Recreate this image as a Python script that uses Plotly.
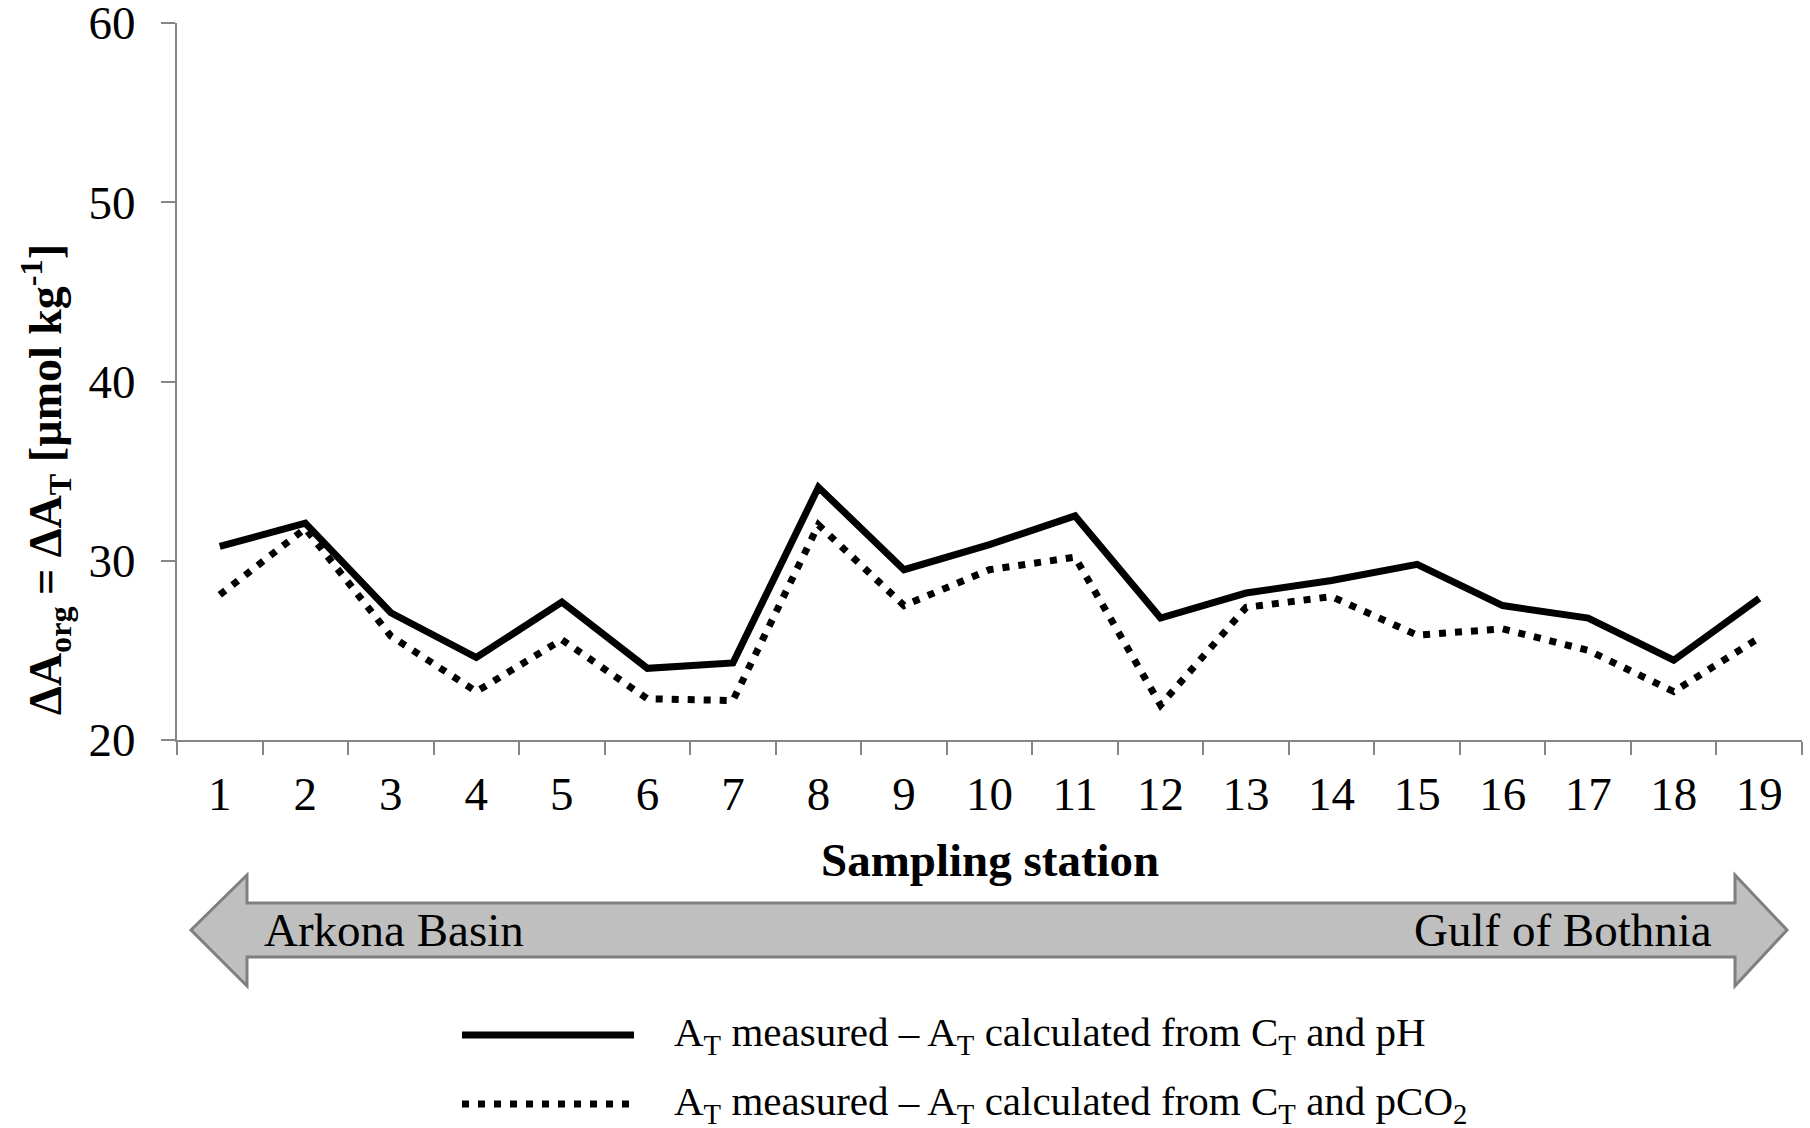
import plotly.graph_objects as go

# ---------------- data ----------------
stations = [str(i) for i in range(1, 20)]
diff_ph = [30.8, 32.1, 27.1, 24.6, 27.7, 24.0, 24.3, 34.1, 29.5, 30.9,
           32.5, 26.8, 28.2, 28.9, 29.8, 27.5, 26.8, 24.45, 27.9]
diff_pco2 = [28.1, 31.8, 25.8, 22.7, 25.6, 22.3, 22.2, 32.0, 27.5, 29.5,
             30.2, 21.95, 27.4, 28.0, 25.85, 26.2, 25.0, 22.7, 25.7]
y_ticks = [20, 30, 40, 50, 60]
legend_labels = [
    "A<sub>T</sub> measured – A<sub>T</sub> calculated from C<sub>T</sub> and pH",
    "A<sub>T</sub> measured – A<sub>T</sub> calculated from C<sub>T</sub> and pCO<sub>2</sub>",
]
region_labels = ["Arkona Basin", "Gulf of Bothnia"]
y_title = "ΔA<sub>org</sub> = ΔA<sub>T</sub> [µmol kg<sup>-1</sup>]"
x_title = "Sampling station"

# ---------------- layout helpers ----------------
W, H = 1810, 1128
L, R, T, B = 177, 1802, 23, 740   # plot area in pixels
FONT = "Liberation Serif, Times New Roman, serif"
AX = "#868686"


def px(x, y):
    """pixel -> paper coordinates"""
    return (x - L) / (R - L), (B - y) / (B - T)


SOLID_W = 7
DOT_W = 7
DOT_DASH = "7px,9px"

fig = go.Figure()
fig.add_trace(go.Scatter(x=stations, y=diff_ph, mode="lines",
                         line=dict(color="black", width=SOLID_W),
                         showlegend=False, name=legend_labels[0]))
fig.add_trace(go.Scatter(x=stations, y=diff_pco2, mode="lines",
                         line=dict(color="black", width=DOT_W, dash=DOT_DASH),
                         showlegend=False, name=legend_labels[1]))

shapes = []
annotations = []

# double-headed arrow
pts = [(191, 930), (247, 875), (247, 903), (1735, 903), (1735, 875),
       (1787, 930), (1735, 986), (1735, 957), (247, 957), (247, 986)]
path = "M " + " L ".join("{:.5f},{:.5f}".format(*px(x, y)) for x, y in pts) + " Z"
shapes.append(dict(type="path", xref="paper", yref="paper", path=path,
                   fillcolor="#bfbfbf", line=dict(color="#7f7f7f", width=3),
                   layer="below"))
ax_, ay_ = px(262, 930)
annotations.append(dict(xref="paper", yref="paper", x=ax_, y=ay_, text=region_labels[0],
                        showarrow=False, xanchor="left", yanchor="middle",
                        font=dict(family=FONT, size=47, color="black")))
ax_, ay_ = px(1714, 930)
annotations.append(dict(xref="paper", yref="paper", x=ax_, y=ay_, text=region_labels[1],
                        showarrow=False, xanchor="right", yanchor="middle",
                        font=dict(family=FONT, size=47, color="black")))

# manual legend
for i, (yy, dash, w) in enumerate([(1035, "solid", SOLID_W), (1104, DOT_DASH, DOT_W)]):
    x0, y0 = px(462, yy)
    x1, _ = px(634, yy)
    shapes.append(dict(type="line", xref="paper", yref="paper", x0=x0, x1=x1, y0=y0, y1=y0,
                       line=dict(color="black", width=w, dash=dash)))
    tx, ty = px(672, yy)
    annotations.append(dict(xref="paper", yref="paper", x=tx, y=ty, text=legend_labels[i],
                            showarrow=False, xanchor="left", yanchor="middle",
                            font=dict(family=FONT, size=41, color="black")))

# y-axis title
tx, ty = px(46, 480)
annotations.append(dict(xref="paper", yref="paper", x=tx, y=ty, text="<b>" + y_title + "</b>",
                        showarrow=False, textangle=-90, xanchor="center", yanchor="middle",
                        font=dict(family=FONT, size=46, color="black")))
# x-axis title
tx, ty = px((L + R) / 2, 860)
annotations.append(dict(xref="paper", yref="paper", x=tx, y=ty, text="<b>" + x_title + "</b>",
                        showarrow=False, xanchor="center", yanchor="middle",
                        font=dict(family=FONT, size=47, color="black")))

fig.update_layout(
    width=W, height=H,
    margin=dict(l=L, r=W - R, t=T, b=H - B, autoexpand=False),
    paper_bgcolor="white", plot_bgcolor="white",
    font=dict(family=FONT, size=47, color="black"),
    shapes=shapes, annotations=annotations,
    xaxis=dict(type="category", range=[-0.5, 18.5], showgrid=False, zeroline=False,
               showline=True, linecolor=AX, linewidth=2, automargin=False,
               ticks="outside", tickson="boundaries", ticklen=13, tickcolor=AX, tickwidth=2,
               tickfont=dict(family=FONT, size=47, color="black"),
               ticklabelstandoff=12),
    yaxis=dict(range=[20, 60], tickvals=y_ticks, showgrid=False, zeroline=False,
               showline=True, linecolor=AX, linewidth=2, automargin=False,
               ticks="outside", ticklen=14, tickcolor=AX, tickwidth=2,
               tickfont=dict(family=FONT, size=47, color="black"),
               ticklabeloverflow="allow", ticklabelstandoff=16),
)

fig.write_html("out.html")
